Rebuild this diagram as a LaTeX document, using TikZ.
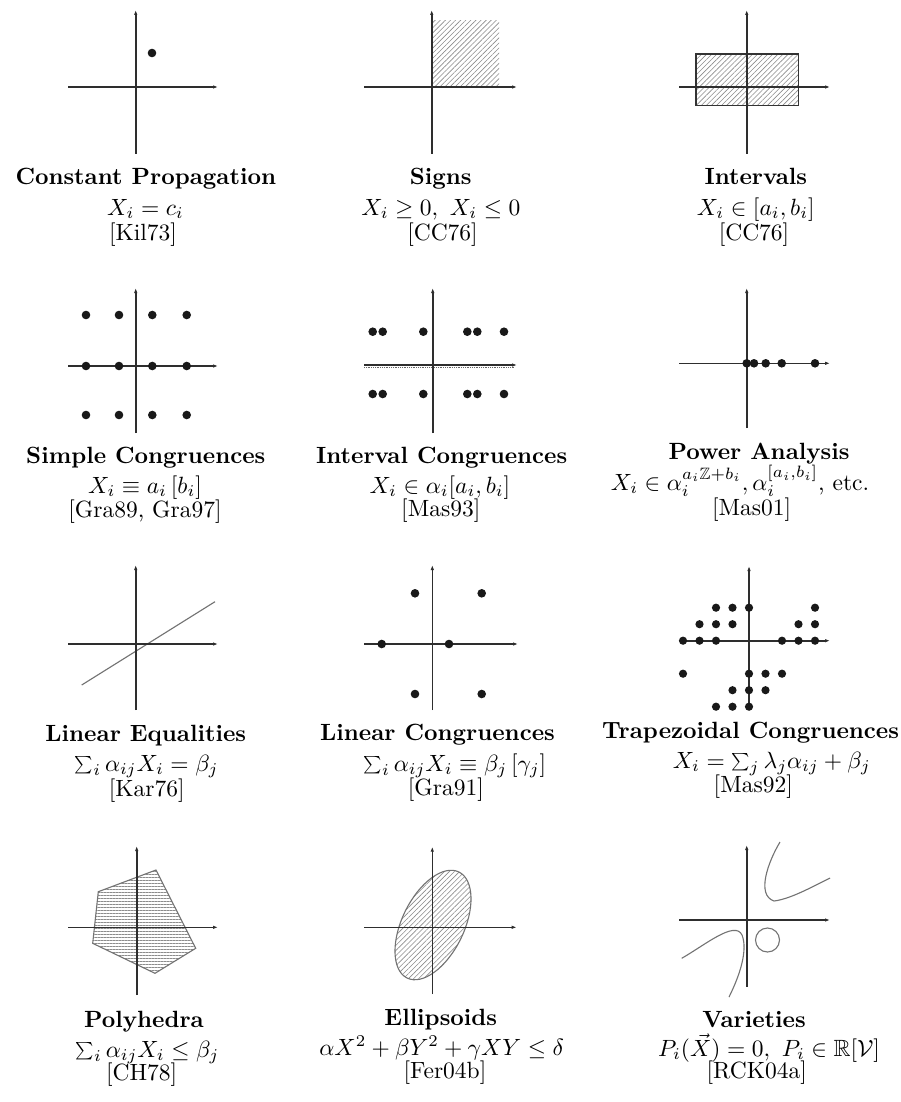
\documentclass[tikz,border=0pt]{standalone}
\usepackage{amsmath,amssymb}
\usepackage{graphicx}
\usetikzlibrary{arrows.meta,patterns.meta}
\newcommand{\mysum}{\mathop{\vcenter{\hbox{\scalebox{0.74}{$\sum$}}}}\nolimits}
\tikzset{
  axis/.style={line width=1.6pt, draw=black!82, -{Latex[length=5pt,width=3.5pt]}},
  dotc/.style={fill=black!90},
  shapeline/.style={draw=black!55, line width=1.1pt},
  hatchne/.style={pattern={Lines[angle=45,distance=3.6pt,line width=0.6pt]}, pattern color=black!45},
  hatchh/.style={pattern={Lines[angle=0,distance=3pt,line width=0.6pt]}, pattern color=black!45},
  ttl/.style={anchor=base, inner sep=0pt, scale=2.35, font=\bfseries},
  fml/.style={anchor=base, inner sep=0pt, scale=2.35},
  cite/.style={anchor=base, inner sep=0pt, scale=2.35}
}
\begin{document}
\begin{tikzpicture}[x=1pt,y=-1pt]
\useasboundingbox (0,0) rectangle (901,1102);
\clip (0,0) rectangle (901,1102);
\fill[white] (0,0) rectangle (901,1102);

% ---------- Row 1 ----------
% Constant propagation
\draw[axis] (68,87) -- (218,87);
\draw[axis] (135.7,154) -- (135.7,10);
\fill[dotc] (152,53) circle (4.3pt);
% Signs
\fill[hatchne] (432,20.7) rectangle (499,87);
\draw[axis] (364,87) -- (517,87);
\draw[axis] (431.7,154) -- (431.7,10);
% Intervals
\fill[hatchne] (696,54) rectangle (798.3,105.7);
\draw[draw=black!80, line width=1.4pt] (696,54) rectangle (798.3,105.7);
\draw[axis] (679,87) -- (830,87);
\draw[axis] (746.7,154) -- (746.7,10);

\node[ttl] (t1) at (145.8,185) {Constant Propagation};
\node[fml] (f1) at (145.5,215) {$X_i = c_i$};
\node[cite] (c1) at (143,240) {[Kil73]};
\node[ttl] (t2) at (440.8,185) {Signs};
\node[fml] (f2) at (440.8,215) {$X_i \geq 0,\ X_i \leq 0$};
\node[cite] (c2) at (442.5,240) {[CC76]};
\node[ttl] (t3) at (755.8,185) {Intervals};
\node[fml] (f3) at (755.8,215) {$X_i \in [a_i, b_i]$};
\node[cite] (c3) at (754,240) {[CC76]};

% ---------- Row 2 ----------
% Simple congruences
\draw[axis] (68,366) -- (218,366);
\draw[axis] (135.7,433) -- (135.7,288);
\foreach \xx in {86,119,152.3,186.7}
  \foreach \yy in {315,366,415}
    \fill[dotc] (\xx,\yy) circle (4.3pt);
% Interval congruences
\draw[black!60, densely dotted, line width=0.8pt] (364,367.8) -- (515,367.8);
\draw[axis] (364,365) -- (517,365);
\draw[axis] (432.7,433) -- (432.7,288);
\foreach \xx in {372.7,382.7,423.3,467.3,477.3,504}
  \foreach \yy in {331.7,394}
    \fill[dotc] (\xx,\yy) circle (4.3pt);
% Power analysis
\draw[axis] (679,363.3) -- (830,363.3);
\draw[axis] (746.7,428) -- (746.7,288);
\foreach \xx in {746.7,754,765.7,781.7,815}
  \fill[dotc] (\xx,363.3) circle (4.3pt);

\node[ttl] (t4) at (145.8,463) {Simple Congruences};
\node[fml] (f4) at (145,493) {$X_i \equiv a_i\,[b_i]$};
\node[cite] (c4) at (145,517) {[Gra89, Gra97]};
\node[ttl] (t5) at (441.7,463) {Interval Congruences};
\node[fml] (f5) at (440,493) {$X_i \in \alpha_i[a_i, b_i]$};
\node[cite] (c5) at (440.8,516) {[Mas93]};
\node[ttl] (t6) at (759,459) {Power Analysis};
\node[fml] (f6) at (740,490) {$X_i \in \alpha_i^{a_i\mathbb{Z}+b_i}, \alpha_i^{[a_i,b_i]}$, etc.};
\node[cite] (c6) at (751.7,515) {[Mas01]};

% ---------- Row 3 ----------
% Linear equalities
\draw[shapeline] (81.7,685) -- (215,601.7);
\draw[axis] (68,644) -- (218,644);
\draw[axis] (135.7,710) -- (135.7,565);
% Linear congruences
\draw[axis] (364,644) -- (518,644);
\draw[axis] (432.3,710) -- (432.3,565);
\foreach \xx/\yy in {415/593.3,481.7/593.3,381.7/644,449/644,415/694,481.7/694}
  \fill[dotc] (\xx,\yy) circle (4.3pt);
% Trapezoidal congruences
\draw[axis] (681,640.7) -- (830,640.7);
\draw[axis] (749,706) -- (749,566);
\foreach \i/\j in {-2/2,-1/2,0/2,4/2,
                   -3/1,-2/1,-1/1,3/1,4/1,
                   -4/0,-3/0,-2/0,2/0,3/0,4/0,
                   -4/-2,0/-2,1/-2,2/-2,
                   -1/-3,0/-3,1/-3,
                   -2/-4,-1/-4,0/-4}
  \fill[dotc] ({749+16.5*\i},{640.7-16.5*\j}) circle (4.1pt);

\node[ttl] (t7) at (145.8,741.5) {Linear Equalities};
\node[fml] (f7) at (146.7,771) {$\mysum_i \alpha_{ij}X_i = \beta_j$};
\node[cite] (c7) at (146.7,796) {[Kar76]};
\node[ttl] (t8) at (437.5,740) {Linear Congruences};
\node[fml] (f8) at (455,771) {$\mysum_i \alpha_{ij}X_i \equiv \beta_j\,[\gamma_j]$};
\node[cite] (c8) at (445.8,795) {[Gra91]};
\node[ttl, anchor=base west] (t9) at (601.7,738) {Trapezoidal Congruences};
\node[fml] (f9) at (771.7,768) {$X_i = \mysum_j \lambda_j\alpha_{ij} + \beta_j$};
\node[cite] (c9) at (753.3,792) {[Mas92]};

% ---------- Row 4 ----------
% Polyhedra
\fill[hatchh] (98.3,891.7) -- (156,870) -- (195.7,948.3) -- (155,973.3) -- (92.7,943.3) -- cycle;
\draw[shapeline] (98.3,891.7) -- (156,870) -- (195.7,948.3) -- (155,973.3) -- (92.7,943.3) -- cycle;
\draw[axis] (68,927.3) -- (218,927.3);
\draw[axis] (136.7,995) -- (136.7,846);
% Ellipsoids
\fill[hatchne, rotate around={64:(433,925)}] (433,925) ellipse [x radius=59pt, y radius=31pt];
\draw[shapeline, rotate around={64:(433,925)}] (433,925) ellipse [x radius=59pt, y radius=31pt];
\draw[axis] (364,927.3) -- (516.7,927.3);
\draw[axis] (432.3,994) -- (432.3,846.7);
% Varieties
\draw[shapeline] (780,842) .. controls (768,862) and (756,895) .. (774,901) .. controls (790,899) and (810,888) .. (830,878);
\draw[shapeline] (681.7,958.3) .. controls (705,945) and (735,920) .. (742,935) .. controls (748,950) and (740,975) .. (729,997);
\draw[shapeline] (767.5,940) circle (12pt);
\draw[axis] (679,920) -- (830,920);
\draw[axis] (746.7,986.7) -- (746.7,845);

\node[ttl] (t10) at (144,1027) {Polyhedra};
\node[fml] (f10) at (147.5,1057) {$\mysum_i \alpha_{ij}X_i \leq \beta_j$};
\node[cite] (c10) at (141.7,1080) {[CH78]};
\node[ttl] (t11) at (440.8,1025) {Ellipsoids};
\node[fml] (f11) at (441.7,1055) {$\alpha X^2 + \beta Y^2 + \gamma XY \leq \delta$};
\node[cite] (c11) at (445,1078) {[Fer04b]};
\node[ttl] (t12) at (754,1027) {Varieties};
\node[fml] (f12) at (769,1056) {$P_i(\vec{X}) = 0,\ P_i \in \mathbb{R}[\mathcal{V}]$};
\node[cite] (c12) at (756.7,1078) {[RCK04a]};
\end{tikzpicture}
\end{document}
